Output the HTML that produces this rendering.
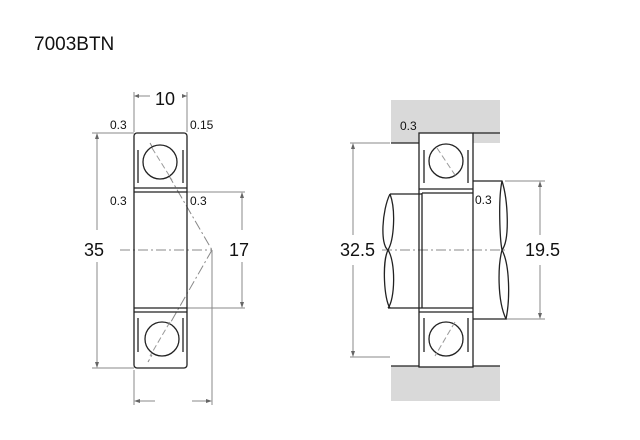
<!DOCTYPE html>
<html><head><style>body{margin:0;background:#fff}svg{display:block}text{font-family:"Liberation Sans",sans-serif;fill:#111}</style></head><body>
<svg width="640" height="440" viewBox="0 0 640 440">
<text x="34" y="50" font-size="19">7003BTN</text>
<!-- LEFT -->
<g stroke="#888" stroke-width="1" fill="none">
<line x1="134" y1="92" x2="134" y2="132"/><line x1="187" y1="92" x2="187" y2="132"/>
<line x1="137" y1="96" x2="150" y2="96"/><line x1="182" y1="96" x2="187" y2="96"/>
<line x1="92" y1="133" x2="134" y2="133"/><line x1="92" y1="368" x2="134" y2="368"/>
<line x1="97" y1="136" x2="97" y2="230"/><line x1="97" y1="262" x2="97" y2="365"/>
<line x1="187" y1="192" x2="245" y2="192"/><line x1="187" y1="308" x2="245" y2="308"/>
<line x1="242" y1="195" x2="242" y2="230"/><line x1="242" y1="262" x2="242" y2="305"/>
<line x1="134" y1="370" x2="134" y2="405"/><line x1="212" y1="250" x2="212" y2="405"/>
<line x1="137" y1="401" x2="155" y2="401"/><line x1="192" y1="401" x2="210" y2="401"/>
<line x1="120" y1="250" x2="212" y2="250" stroke-dasharray="10,3,2,3"/>
<line x1="150" y1="143" x2="212" y2="250" stroke-dasharray="10,3,2,3"/>
<line x1="212" y1="250" x2="148" y2="362" stroke-dasharray="10,3,2,3"/>
</g>
<g fill="#666"><path d="M134,96l5,-2v4z"/><path d="M187,96l-5,-2v4z"/><path d="M97,133l-2,6h4z"/><path d="M97,368l-2,-6h4z"/><path d="M242,192l-2,6h4z"/><path d="M242,308l-2,-6h4z"/><path d="M134,401l6,-2v4z"/><path d="M212,401l-6,-2v4z"/></g>
<g stroke="#222" stroke-width="1.3" fill="none">
<rect x="134" y="133" width="53" height="235" rx="3"/>
<line x1="134" y1="188" x2="187" y2="188"/><line x1="134" y1="192" x2="187" y2="192"/>
<line x1="134" y1="308" x2="187" y2="308"/><line x1="134" y1="312" x2="187" y2="312"/>
<line x1="138" y1="150" x2="138" y2="183"/><line x1="183" y1="150" x2="183" y2="183"/>
<line x1="138" y1="318" x2="138" y2="352"/><line x1="183" y1="318" x2="183" y2="352"/>
<circle cx="160" cy="162" r="17" fill="#fff"/><circle cx="162" cy="339" r="17" fill="#fff"/>
</g>
<line x1="152" y1="148" x2="172" y2="180" stroke="#999" stroke-dasharray="6,3"/>
<line x1="170" y1="322" x2="150" y2="356" stroke="#999" stroke-dasharray="6,3"/>
<g font-size="12"><text x="110" y="129">0.3</text><text x="190" y="129">0.15</text><text x="110" y="205">0.3</text><text x="190" y="205">0.3</text></g>
<g font-size="18"><text x="155" y="105">10</text><text x="84" y="256">35</text><text x="229" y="256">17</text></g>
<!-- RIGHT -->
<rect x="391" y="100" width="109" height="43" fill="#d9d9d9"/>
<rect x="391" y="366" width="109" height="35" fill="#d9d9d9"/>
<rect x="419" y="133" width="54" height="234" fill="#fff"/>
<g stroke="#888" fill="none">
<line x1="350" y1="143" x2="390" y2="143"/><line x1="350" y1="357" x2="390" y2="357"/>
<line x1="353" y1="146" x2="353" y2="235"/><line x1="353" y1="265" x2="353" y2="354"/>
<line x1="505" y1="181" x2="545" y2="181"/><line x1="505" y1="319" x2="545" y2="319"/>
<line x1="540" y1="184" x2="540" y2="235"/><line x1="540" y1="265" x2="540" y2="316"/>
<line x1="382" y1="250" x2="505" y2="250" stroke-dasharray="10,3,2,3"/>
</g>
<g fill="#666"><path d="M353,143l-2,6h4z"/><path d="M353,357l-2,-6h4z"/><path d="M540,181l-2,6h4z"/><path d="M540,319l-2,-6h4z"/></g>
<g stroke="#222" stroke-width="1.3" fill="none">
<line x1="391" y1="143" x2="419" y2="143"/><line x1="473" y1="133" x2="500" y2="133"/>
<line x1="391" y1="366" x2="419" y2="366"/><line x1="473" y1="366" x2="500" y2="366"/>
<rect x="419" y="133" width="54" height="234"/>
<line x1="419" y1="189" x2="473" y2="189"/><line x1="422" y1="193" x2="473" y2="193"/>
<line x1="422" y1="308" x2="473" y2="308"/><line x1="419" y1="312" x2="473" y2="312"/>
<line x1="422" y1="193" x2="422" y2="308"/>
<path d="M422,194H390M390,194C382,210 380,245 388,250C396,262 395,300 388,308M388,308H422" />
<path d="M473,181H502C508,200 510,240 502,250C498,265 497,300 506,319H473"/>
<path d="M390,194C396,210 394,240 388,250C382,262 384,300 390,308"/>
<path d="M502,181C498,200 500,240 502,250C510,265 510,300 506,319"/>
<line x1="424" y1="150" x2="424" y2="183"/><line x1="468" y1="150" x2="468" y2="183"/>
<line x1="424" y1="318" x2="424" y2="352"/><line x1="468" y1="318" x2="468" y2="352"/>
<circle cx="446" cy="161" r="17" fill="#fff"/><circle cx="446" cy="339" r="17" fill="#fff"/>
</g>
<line x1="437" y1="148" x2="457" y2="178" stroke="#999" stroke-dasharray="6,3"/>
<line x1="455" y1="322" x2="435" y2="356" stroke="#999" stroke-dasharray="6,3"/>
<g font-size="12"><text x="400" y="130">0.3</text><text x="475" y="204">0.3</text></g>
<g font-size="18"><text x="340" y="256">32.5</text><text x="525" y="256">19.5</text></g>
</svg>
</body></html>
